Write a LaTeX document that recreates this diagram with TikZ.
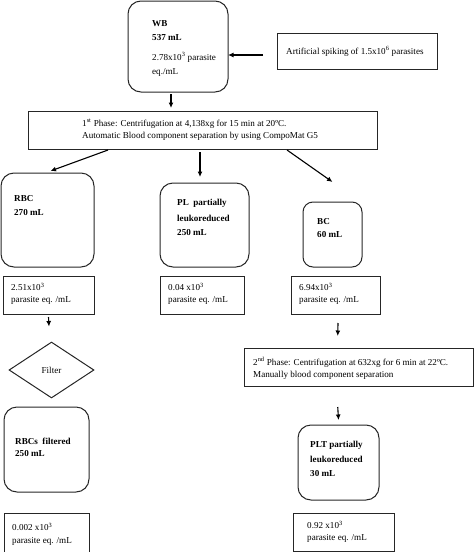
\documentclass[tikz,border=0pt]{standalone}
\usepackage{fontspec}
\setmainfont{Liberation Serif}
\usetikzlibrary{shapes.geometric,arrows.meta}
\begin{document}
\begin{tikzpicture}[x=1pt,y=-1pt,
  rbox/.style={draw=black!85,line width=1pt,rounded corners=13pt,anchor=north west,inner sep=0pt,outer sep=0pt},
  sbox/.style={draw=black!85,line width=1pt,anchor=north west,inner sep=0pt,outer sep=0pt},
  txt/.style={anchor=west,inner sep=0pt,font=\fontsize{9.1}{11}\selectfont},
  btxt/.style={txt,font=\fontsize{9.1}{11}\selectfont\bfseries},
  arr/.style={line width=1.1pt,-{Latex[length=5.5pt,width=5pt]}}]
\useasboundingbox (0,0) rectangle (474,552);
% boxes
\node[rbox,minimum width=100pt,minimum height=91pt] (wb) at (128,1) {};
\node[sbox,minimum width=160pt,minimum height=36pt] (spike) at (277,33) {};
\node[sbox,minimum width=349pt,minimum height=38pt] (p1) at (28,111) {};
\node[rbox,minimum width=93pt,minimum height=94pt] (rbc) at (1,173) {};
\node[rbox,minimum width=89pt,minimum height=84pt] (pl) at (160,183) {};
\node[rbox,minimum width=59pt,minimum height=65pt,rounded corners=10pt] (bc) at (303,202) {};
\node[sbox,minimum width=91pt,minimum height=38pt] (rbcv) at (3,276) {};
\node[sbox,minimum width=84pt,minimum height=38pt] (plv) at (160,276) {};
\node[sbox,minimum width=89pt,minimum height=38pt] (bcv) at (291,276) {};
\node[draw=black!85,line width=1pt,diamond,minimum width=85pt,minimum height=56pt,inner sep=0pt,aspect=1.5,font=\fontsize{9.1}{11}\selectfont] (filt) at (51.5,370) {Filter};
\node[sbox,minimum width=229.5pt,minimum height=38pt] (p2) at (244,348) {};
\node[rbox,minimum width=85pt,minimum height=85pt] (rbcf) at (4,407) {};
\node[rbox,minimum width=81pt,minimum height=75pt] (plt) at (298,425) {};
\node[sbox,minimum width=85pt,minimum height=40pt] (rbcfv) at (4,513) {};
\node[sbox,minimum width=101pt,minimum height=38pt] (pltv) at (293,513) {};
% texts
\node[btxt] (t1) at (152,24) {WB};
\node[btxt] (t2) at (152,38) {537 mL};
\node[txt] (t3) at (152,57) {2.78x10\textsuperscript{3} parasite};
\node[txt] (t4) at (152,72) {eq./mL};
\node[txt] (t5) at (286,51) {Artificial spiking of 1.5x10\textsuperscript{6} parasites};
\node[txt] (t6) at (82,124) {1\textsuperscript{st} Phase: Centrifugation at 4,138xg for 15 min at 20ºC.};
\node[txt] (t7) at (82,136) {Automatic Blood component separation by using CompoMat G5};
\node[btxt] (t8) at (14,199) {RBC};
\node[btxt] (t9) at (14,213) {270 mL};
\node[btxt] (t10) at (177,203) {PL\ \ partially};
\node[btxt] (t11) at (177,218) {leukoreduced};
\node[btxt] (t12) at (177,233) {250 mL};
\node[btxt] (t13) at (317,222) {BC};
\node[btxt] (t14) at (317,235) {60 mL};
\node[txt] (t15) at (11,287) {2.51x10\textsuperscript{3}};
\node[txt] (t16) at (11,300) {parasite eq. /mL};
\node[txt] (t17) at (168,287) {0.04 x10\textsuperscript{3}};
\node[txt] (t18) at (168,300) {parasite eq. /mL};
\node[txt] (t19) at (299,287) {6.94x10\textsuperscript{3}};
\node[txt] (t20) at (299,300) {parasite eq. /mL};
\node[txt] (t21) at (253,362) {2\textsuperscript{nd} Phase: Centrifugation at 632xg for 6 min at 22ºC.};
\node[txt] (t22) at (253,375) {Manually blood component separation};
\node[btxt] (t23) at (15,441) {RBCs\ \ filtered};
\node[btxt] (t24) at (15,454) {250 mL};
\node[btxt] (t25) at (310,445) {PLT partially};
\node[btxt] (t26) at (310,459) {leukoreduced};
\node[btxt] (t27) at (310,474) {30 mL};
\node[txt] (t28) at (12,527) {0.002 x10\textsuperscript{3}};
\node[txt] (t29) at (12,541) {parasite eq. /mL};
\node[txt] (t30) at (307,525) {0.92 x10\textsuperscript{3}};
\node[txt] (t31) at (307,538) {parasite eq. /mL};
% arrows
\draw[arr] ([xshift=-14pt,yshift=-4pt]spike.west) -- ([yshift=-4pt]spike.west -| wb.east);
\draw[arr] ([xshift=-7pt,yshift=-2pt]wb.south) -- ([xshift=-7pt,yshift=3pt]wb.south |- p1.north);
\draw[arr] ([xshift=80pt,yshift=-1pt]p1.south west) -- ([xshift=3pt,yshift=2pt]rbc.north);
\draw[arr] ([xshift=172pt,yshift=-3pt]p1.south west) -- ([xshift=-4.5pt,yshift=6pt]pl.north);
\draw[arr] ([xshift=259pt,yshift=-1pt]p1.south west) -- ([yshift=20pt]bc.north);
\draw[arr] ([yshift=-3pt]rbcv.south) -- ([xshift=-2.5pt,yshift=15pt]filt.north);
\draw[arr] ([xshift=2.5pt,yshift=-9pt]bcv.south) -- ([xshift=-21pt,yshift=12pt]p2.north);
\draw[arr] ([xshift=-21pt,yshift=-21pt]p2.south) -- ([yshift=5pt]plt.north);
\end{tikzpicture}
\end{document}
